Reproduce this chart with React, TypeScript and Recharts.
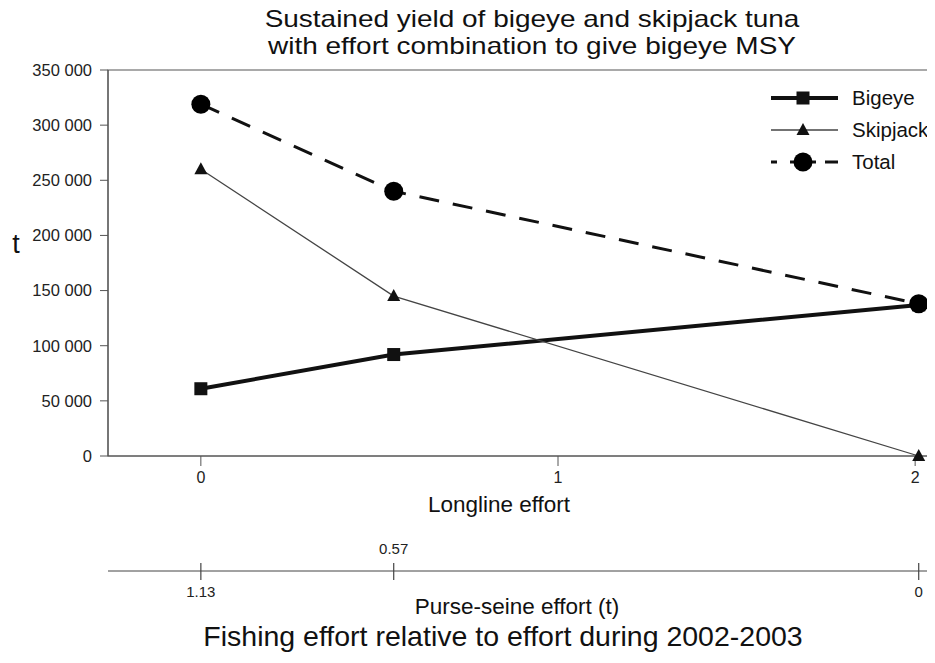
import React from "react";
import { LineChart, Line, XAxis, YAxis, Legend, ReferenceArea, Label } from "recharts";

const longlineEffort = [0, 0.54, 2.01];
const bigeye = [61000, 92000, 137000];
const skipjack = [260000, 145000, 0];
const total = [319000, 240000, 138000];

const yTicks = [0, 50000, 100000, 150000, 200000, 250000, 300000, 350000];
const longlineTicks = [0, 1, 2];
const purseSeineLabels = ["1.13", "0.57", "0"];

const X_DOMAIN: [number, number] = [-0.26, 2.05];
const FONT = '"Liberation Sans", Arial, sans-serif';

const data = longlineEffort.map((x, i) => ({
  x,
  bigeye: bigeye[i],
  skipjack: skipjack[i],
  total: total[i],
}));

const fmt = (v: number) => String(v).replace(/\B(?=(\d{3})+(?!\d))/g, " ");

// markers
function Square({ cx, cy, index }: any) {
  return <rect key={index} x={cx - 6.5} y={cy - 6.5} width={13} height={13} fill="#111" />;
}
function Triangle({ cx, cy, index }: any) {
  return (
    <polygon
      key={index}
      points={`${cx},${cy - 7} ${cx - 6.5},${cy + 5} ${cx + 6.5},${cy + 5}`}
      fill="#111"
    />
  );
}
function Dot({ cx, cy, index }: any) {
  return <circle key={index} cx={cx} cy={cy} r={9.5} fill="#000" />;
}

const legendStyle: Record<string, { w: number; dash?: string; color: string }> = {
  bigeye: { w: 4, color: "#111" },
  skipjack: { w: 1.3, color: "#444" },
  total: { w: 3, dash: "6 13 26 9 13", color: "#111" },
};

function LegendBox({ payload }: any) {
  if (!payload) return null;
  return (
    <svg width={170} height={100} style={{ display: "block" }}>
      {payload.map((p: any, i: number) => {
        const y = 16 + i * 32;
        const s = legendStyle[p.dataKey];
        const cx = 38;
        return (
          <g key={p.dataKey}>
            <line x1={6} x2={73} y1={y} y2={y} stroke={s.color} strokeWidth={s.w} strokeDasharray={s.dash} />
            {p.dataKey === "bigeye" && <Square cx={cx} cy={y} />}
            {p.dataKey === "skipjack" && <Triangle cx={cx} cy={y} />}
            {p.dataKey === "total" && <Dot cx={cx} cy={y} />}
            <text x={87} y={y + 7} fontSize={20.5} fill="#111" fontFamily={FONT}>
              {p.value}
            </text>
          </g>
        );
      })}
    </svg>
  );
}

function PurseSeineTick({ x, y, payload }: any) {
  const i = longlineEffort.indexOf(payload.value);
  const label = purseSeineLabels[i];
  const above = label === "0.57";
  return (
    <g>
      <line x1={x} x2={x} y1={y - 8} y2={y + 9} stroke="#444" strokeWidth={1.2} />
      <text x={x} y={above ? y - 17 : y + 26} textAnchor="middle" fontSize={15} fill="#222" fontFamily={FONT}>
        {label}
      </text>
    </g>
  );
}

export default function App() {
  return (
    <div style={{ position: "relative", width: 935, height: 663, margin: -8, background: "#fff", fontFamily: FONT }}>
      <div
        style={{
          position: "absolute",
          left: 132,
          width: 800,
          top: 5,
          textAlign: "center",
          fontSize: 24,
          lineHeight: "27px",
          color: "#111",
          transform: "scaleX(1.165)",
          zIndex: 2,
        }}
      >
        Sustained yield of bigeye and skipjack tuna
        <br />
        with effort combination to give bigeye MSY
      </div>
      <LineChart width={935} height={663} data={data} margin={{ top: 70, right: 2, bottom: 0, left: 0 }}>
        <ReferenceArea
          x1={X_DOMAIN[0]}
          x2={X_DOMAIN[1]}
          y1={0}
          y2={350000}
          fill="none"
          stroke="#555"
          strokeWidth={1.2}
        />
        <XAxis
          dataKey="x"
          type="number"
          domain={X_DOMAIN}
          ticks={longlineTicks}
          interval={0}
          allowDataOverflow
          height={115}
          tickSize={10}
          tickMargin={6}
          stroke="#555"
          tick={{ fill: "#222", fontSize: 16, fontFamily: FONT }}
        >
          <Label
            content={({ viewBox }: any) => (
              <text x={499} y={viewBox.y + 56} textAnchor="middle" fontSize={22.5} fill="#111" fontFamily={FONT}>
                Longline effort
              </text>
            )}
          />
        </XAxis>
        <XAxis
          xAxisId="ps"
          dataKey="x"
          type="number"
          domain={X_DOMAIN}
          ticks={longlineEffort}
          interval={0}
          allowDataOverflow
          height={92}
          tickLine={false}
          tickSize={0}
          tickMargin={0}
          stroke="#444"
          tick={<PurseSeineTick />}
        >
          <Label
            content={({ viewBox }: any) => (
              <g fontFamily={FONT} fill="#111">
                <text x={517} y={viewBox.y + 43} textAnchor="middle" fontSize={22.5}>
                  Purse-seine effort (t)
                </text>
                <text x={503} y={viewBox.y + 75} textAnchor="middle" fontSize={28.5}>
                  Fishing effort relative to effort during 2002-2003
                </text>
              </g>
            )}
          />
        </XAxis>
        <YAxis
          type="number"
          domain={[0, 350000]}
          ticks={yTicks}
          interval={0}
          width={108}
          tickSize={8}
          tickMargin={8}
          stroke="#555"
          tickFormatter={fmt}
          tick={{ fill: "#222", fontSize: 16.5, fontFamily: FONT }}
        >
          <Label
            content={() => (
              <text x={16} y={253} textAnchor="middle" fontSize={27} fill="#111" fontFamily={FONT}>
                t
              </text>
            )}
          />
        </YAxis>
        <Legend
          layout="horizontal"
          verticalAlign="middle"
          align="center"
          wrapperStyle={{ position: "absolute", left: 765, top: 82, width: 170, height: 100 }}
          content={<LegendBox />}
        />
        <Line
          dataKey="bigeye"
          name="Bigeye"
          type="linear"
          stroke="#111"
          strokeWidth={4}
          dot={<Square />}
          activeDot={false}
          isAnimationActive={false}
        />
        <Line
          dataKey="skipjack"
          name="Skipjack"
          type="linear"
          stroke="#444"
          strokeWidth={1.3}
          dot={<Triangle />}
          activeDot={false}
          isAnimationActive={false}
        />
        <Line
          dataKey="total"
          name="Total"
          type="linear"
          stroke="#111"
          strokeWidth={3}
          strokeDasharray="20 14"
          dot={<Dot />}
          activeDot={false}
          isAnimationActive={false}
        />
      </LineChart>
    </div>
  );
}
